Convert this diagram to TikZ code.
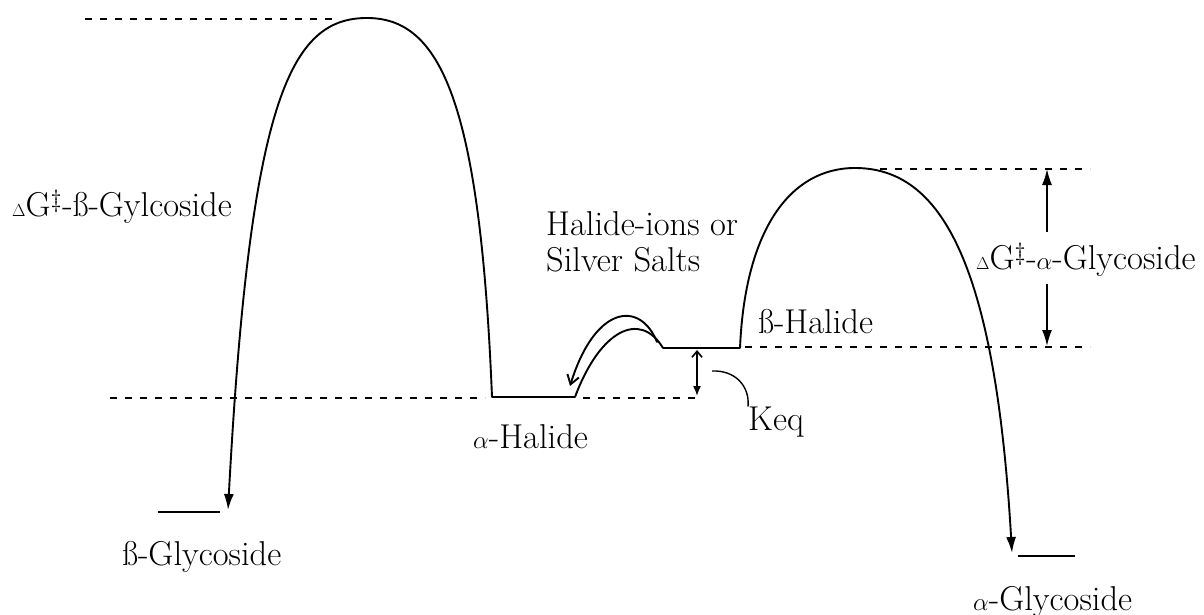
\documentclass[tikz,border=0pt]{standalone}
\usepackage{fontspec}
\usetikzlibrary{arrows.meta}
\begin{document}
\begin{tikzpicture}[x=1pt,y=-1pt,
  curve/.style={line width=1.9pt, line cap=round},
  level/.style={line width=1.9pt},
  guide/.style={line width=1.6pt, dash pattern=on 7pt off 8pt},
  lbl/.style={font=\fontsize{34.5}{36}\selectfont, inner sep=0pt},
  fillarrow/.style={-{Latex[length=16pt,width=10pt]}}]
\useasboundingbox (0,0) rectangle (1204,615);
% key points
\coordinate (peakA) at (367,18);
\coordinate (aHalL) at (492,397);
\coordinate (aHalR) at (575,397);
\coordinate (bHalL) at (663,348);
\coordinate (bHalR) at (740,348);
\coordinate (peakB) at (855,168);
\coordinate (bGlyTip) at (228,510);
\coordinate (bGlyL) at (158,512);
\coordinate (bGlyR) at (220,512);
\coordinate (aGlyTip) at (1012,553);
\coordinate (aGlyL) at (1018,556);
\coordinate (aGlyR) at (1075,556);
% dashed guide lines
\draw[guide] (85,19) -- (338,19);
\draw[guide] (110,398) -- (485,398);
\draw[guide] (583,398) -- (695,398);
\draw[guide] (745,347) -- (1090,347);
\draw[guide] (880,169) -- (1090,169);
% levels
\draw[level] (aHalL) -- (aHalR);
\draw[level] (bHalL) -- (bHalR);
\draw[level] (bGlyL) -- (bGlyR);
\draw[level] (aGlyL) -- (aGlyR);
% energy curves
\draw[curve, fillarrow] (aHalL) .. controls (480,100) and (440,18) .. (peakA)
  .. controls (290,18) and (250,100) .. (bGlyTip);
\draw[curve, fillarrow] (bHalR) .. controls (745,230) and (790,168) .. (peakB)
  .. controls (940,168) and (995,260) .. (aGlyTip);
\draw[curve] (aHalR) .. controls (600,330) and (640,310) .. (bHalL);
\coordinate (arrS) at (657,342);
\coordinate (arrE) at (570,386);
\draw[curve, -{Straight Barb[length=9pt,width=12pt]}] (arrS) .. controls (640,300) and (595,305) .. (arrE);
% labels
\node[lbl, anchor=west] (dGb) at (12,207) {\scalebox{0.7}{$\Delta$}G$^{\ddagger}$-ß-Gylcoside};
\node[lbl, anchor=west] (dGa) at (976,260) {\scalebox{0.7}{$\Delta$}G$^{\ddagger}$-$\alpha$-Glycoside};
\node[lbl, anchor=west, align=left] (salts) at (546,242) {Halide-ions or\\Silver Salts};
\node[lbl, anchor=west] (bHal) at (758,322) {ß-Halide};
\node[lbl, anchor=west] (aHal) at (473,437) {$\alpha$-Halide};
\node[lbl, anchor=west] (keq) at (748,422) {Keq};
\node[lbl, anchor=west] (bGly) at (122,557) {ß-Glycoside};
\node[lbl, anchor=west] (aGly) at (973,602) {$\alpha$-Glycoside};
% Keq double arrow and leader
\coordinate (kT) at (697,350);
\coordinate (kB) at (697,396);
\draw[line width=1.6pt, {Straight Barb[length=6pt,width=10pt]}-{Latex[length=10pt,width=8pt]}] (kT) -- (kB);
\coordinate (kS) at (712,371);
\draw[line width=1.4pt] (kS) .. controls (735,370) and (750,386) .. (keq.north west);
% Delta G alpha arrows
\coordinate (gT) at (1047,169);
\coordinate (gT2) at (1047,232);
\coordinate (gB2) at (1047,284);
\coordinate (gB) at (1047,346);
\draw[line width=1.6pt, fillarrow] (gT2) -- (gT);
\draw[line width=1.6pt, fillarrow] (gB2) -- (gB);
\end{tikzpicture}
\end{document}
